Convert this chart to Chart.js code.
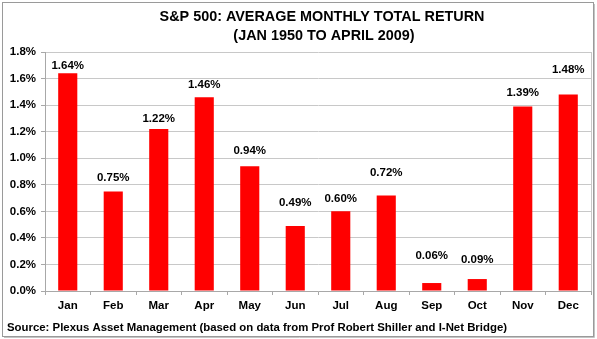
<!DOCTYPE html>
<html>
<head>
<meta charset="utf-8">
<script src="https://cdn.jsdelivr.net/npm/chart.js@4"></script>
<style>
  html, body { margin: 0; padding: 0; background: #fff; }
  canvas { display: block; }
</style>
</head>
<body>
<canvas id="returnChart" width="597" height="339"></canvas>
<script>
// Chart data
const months = ['Jan', 'Feb', 'Mar', 'Apr', 'May', 'Jun', 'Jul', 'Aug', 'Sep', 'Oct', 'Nov', 'Dec'];
const avgReturn = [1.64, 0.75, 1.22, 1.46, 0.94, 0.49, 0.60, 0.72, 0.06, 0.09, 1.39, 1.48];
const titleLines = ['S&P 500: AVERAGE MONTHLY TOTAL RETURN', '(JAN 1950 TO APRIL 2009)'];
const sourceText = 'Source: Plexus Asset Management (based on data from Prof Robert Shiller and I-Net Bridge)';

// how far each value label sits above its bar (px), labels were hand placed in the original
const labelLift = [4, 10, 7, 9, 12, 20, 9, 19, 24, 16, 10, 21];

const FONT = 'Arial, "Liberation Sans", sans-serif';

// Draws title, source line, value labels and the borders
const decorations = {
    id: 'decorations',
    afterDatasetsDraw(chart) {
        const ctx = chart.ctx;
        const area = chart.chartArea;
        const meta = chart.getDatasetMeta(0);

        ctx.save();
        ctx.fillStyle = '#000';
        ctx.font = 'bold 11.5px ' + FONT;
        ctx.textAlign = 'center';
        ctx.textBaseline = 'alphabetic';
        meta.data.forEach((bar, i) => {
            ctx.fillText(avgReturn[i].toFixed(2) + '%', bar.x, bar.y - labelLift[i]);
        });

        // right edge of plot area
        ctx.strokeStyle = '#c8c8c8';
        ctx.lineWidth = 1;
        ctx.beginPath();
        ctx.moveTo(Math.round(area.right) + 0.5, area.top);
        ctx.lineTo(Math.round(area.right) + 0.5, area.bottom);
        ctx.stroke();
        ctx.restore();
    },
    afterDraw(chart) {
        const ctx = chart.ctx;
        ctx.save();
        ctx.fillStyle = '#000';
        ctx.font = 'bold 14.4px ' + FONT;
        ctx.textAlign = 'center';
        ctx.textBaseline = 'alphabetic';
        ctx.fillText(titleLines[0], 322, 21);
        ctx.fillText(titleLines[1], 324, 40);

        ctx.font = 'bold 11.4px ' + FONT;
        ctx.textAlign = 'left';
        ctx.fillText(sourceText, 7, 331);

        // outer frame with a little shadow
        ctx.strokeStyle = '#9a9a9a';
        ctx.lineWidth = 1;
        ctx.strokeRect(2.5, 2.5, 591, 334);
        ctx.strokeStyle = '#c4c4c4';
        ctx.beginPath();
        ctx.moveTo(594.5, 4);
        ctx.lineTo(594.5, 337.5);
        ctx.lineTo(4, 337.5);
        ctx.stroke();
        ctx.restore();
    }
};

const ctx = document.getElementById('returnChart').getContext('2d');
const returnChart = new Chart(ctx, {
    type: 'bar',
    data: {
        labels: months,
        datasets: [{
            data: avgReturn,
            backgroundColor: '#ff0000',
            borderWidth: 0,
            categoryPercentage: 1.0,
            barPercentage: 0.42
        }]
    },
    options: {
        responsive: false,
        animation: false,
        devicePixelRatio: 1,
        layout: {
            padding: { left: 0, top: 52, right: 6, bottom: 22 }
        },
        plugins: {
            legend: { display: false },
            title: { display: false },
            tooltip: { enabled: false }
        },
        scales: {
            x: {
                afterFit(scale) { scale.height = 26; },
                grid: {
                    offset: true,
                    drawOnChartArea: false,
                    drawTicks: true,
                    tickLength: 4,
                    color: '#a8a8a8'
                },
                border: { color: '#a8a8a8' },
                ticks: {
                    color: '#000',
                    padding: 4,
                    font: { family: FONT, size: 11.5, weight: 'bold' }
                }
            },
            y: {
                min: 0,
                max: 1.8,
                afterFit(scale) { scale.width = 45; },
                grid: {
                    color: '#c8c8c8',
                    tickLength: 4,
                    tickColor: '#a8a8a8'
                },
                border: { color: '#a8a8a8' },
                ticks: {
                    stepSize: 0.2,
                    color: '#000',
                    padding: 5,
                    font: { family: FONT, size: 11.5, weight: 'bold' },
                    callback: (value) => value.toFixed(1) + '%'
                }
            }
        }
    },
    plugins: [decorations]
});
</script>
</body>
</html>
